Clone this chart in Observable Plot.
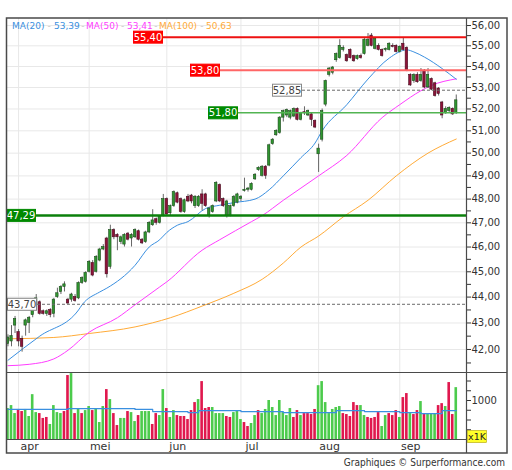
<!DOCTYPE html>
<html><head><meta charset="utf-8">
<script src="https://cdn.jsdelivr.net/npm/d3@7"></script>
<script src="https://cdn.jsdelivr.net/npm/@observablehq/plot@0.6"></script>
<style>
html,body{margin:0;padding:0;background:#fff;}
#wrap{position:relative;width:512px;height:470px;overflow:hidden;font-family:"DejaVu Sans",sans-serif;}
#wrap > svg{position:absolute;left:0;}
</style></head><body><div id="wrap"></div>
<script>
// ---- data ----
const opens=[42.2,42.3,42.9,42.65,42.4,42.9,43.0,43.3,43.7,43.8,43.45,43.35,43.5,43.35,44.0,44.2,44.4,43.9,43.9,44.0,43.95,44.55,44.6,45.0,45.35,45.0,45.45,45.9,46.35,45.2,46.7,46.5,46.2,46.1,46.55,46.35,46.4,46.65,46.3,46.2,46.6,46.9,47.15,47.0,47.3,48.0,47.4,47.7,48.25,48.0,47.45,48.1,48.15,47.7,47.7,48.2,48.2,47.3,47.45,47.9,48.6,48.0,47.3,47.3,47.7,47.85,48.0,48.35,48.4,48.4,48.85,49.25,49.0,49.4,49.45,50.4,50.8,50.9,51.6,51.7,51.6,51.65,52.0,51.5,51.85,51.7,51.75,51.45,49.95,50.6,52.2,53.6,53.7,54.3,54.4,54.8,54.55,54.8,54.5,54.35,54.5,54.6,55.0,55.5,54.85,55.0,54.8,54.8,54.8,55.0,55.0,54.7,55.1,54.9,53.6,53.3,53.6,53.3,53.8,53.0,53.4,53.2,52.95,52.3,51.8,51.9,52.0,51.8];
const highs=[42.55,42.9,43.25,42.75,42.5,43.15,43.25,43.7,44.1,43.85,43.5,43.5,43.55,43.95,44.35,44.45,44.6,43.95,44.15,44.1,44.6,44.8,45.0,45.45,45.45,45.65,45.95,46.1,46.4,46.9,46.75,46.55,46.45,46.55,46.6,46.55,46.75,46.7,46.35,46.65,47.05,47.55,47.2,47.3,48.2,48.05,47.75,48.35,48.3,48.05,48.0,48.2,48.2,48.15,48.15,48.4,48.25,47.65,47.75,48.75,48.65,48.05,47.95,47.75,48.15,48.25,48.15,48.9,48.5,48.7,49.1,49.4,49.45,49.45,50.4,50.65,51.05,51.65,51.95,52.0,51.95,52.05,52.05,51.85,52.1,51.95,51.8,51.5,50.4,52.0,53.35,53.95,54.0,54.65,55.3,55.0,54.6,54.85,54.55,54.55,54.6,55.35,55.6,55.6,55.4,55.1,54.85,54.9,55.15,55.1,55.05,55.0,55.4,54.95,53.65,53.65,53.7,53.9,53.85,53.9,53.45,53.25,53.0,52.35,52.1,52.1,52.05,52.65];
const lows=[42.1,42.1,42.6,42.1,41.9,42.5,42.6,43.2,43.6,43.3,43.3,43.25,43.2,43.2,43.95,44.1,44.2,43.7,43.8,43.8,43.9,44.5,44.55,44.95,44.8,44.95,45.4,45.85,44.75,45.1,46.3,45.85,46.1,46.0,46.25,46.0,46.35,46.25,46.1,46.15,46.55,46.85,46.9,46.95,47.25,47.3,47.3,47.65,47.8,47.4,47.4,47.85,47.8,47.6,47.65,47.5,47.65,47.2,47.4,47.85,47.85,47.65,47.2,47.25,47.65,47.8,47.9,48.3,48.3,48.35,48.8,49.2,48.95,48.85,49.4,50.35,50.75,50.85,51.4,51.6,51.5,51.6,51.45,51.45,51.7,51.65,51.2,51.1,49.15,50.5,52.1,53.5,53.6,54.2,54.35,54.7,54.2,54.35,54.2,54.3,54.35,54.55,54.95,54.95,54.8,54.75,54.45,54.7,54.75,54.9,54.65,54.65,54.75,53.75,53.05,53.2,53.2,53.25,52.95,52.95,52.85,52.55,52.6,51.55,51.75,51.8,51.7,51.75];
const closes=[42.45,42.5,43.15,42.3,42.1,43.1,43.2,43.6,43.95,43.35,43.35,43.45,43.3,43.9,44.15,44.4,44.5,43.75,44.1,43.85,44.55,44.75,44.95,45.4,44.85,45.6,45.9,46.0,44.9,46.7,46.4,46.4,46.4,46.5,46.3,46.5,46.7,46.3,46.15,46.6,47.0,47.1,47.0,47.25,48.0,47.35,47.7,48.3,47.85,47.45,47.95,47.9,47.9,48.1,48.1,47.8,47.7,47.6,47.7,48.7,47.9,47.7,47.9,47.7,48.1,48.2,48.1,48.4,48.45,48.65,49.05,49.35,49.4,49.0,50.35,50.6,51.0,51.6,51.9,51.95,51.9,52.0,51.5,51.8,51.8,51.9,51.5,51.15,50.2,51.9,53.3,53.9,53.95,54.6,55.0,54.9,54.25,54.4,54.25,54.5,54.4,55.3,55.3,55.0,55.35,54.8,54.5,54.85,55.1,54.95,54.7,54.95,54.8,53.8,53.1,53.6,53.25,53.6,53.0,53.6,52.9,52.6,52.7,51.7,52.0,52.05,51.75,52.4];
const volumes=[794,870,665,770,717,770,590,1150,690,665,540,565,385,870,690,665,717,1640,1690,665,794,665,742,845,742,794,435,845,1280,1024,665,358,540,540,717,690,460,614,717,717,717,385,665,614,1280,794,565,742,614,590,590,512,742,947,1024,1485,794,820,820,665,665,665,590,565,690,717,512,435,333,410,614,742,665,770,1000,820,614,1000,690,614,794,565,742,614,665,665,640,770,1380,1485,947,665,770,820,845,665,640,590,947,870,870,614,565,540,565,690,333,614,665,614,742,565,1075,1178,665,640,742,973,665,665,665,665,870,920,845,1460,640,1330];
const volumeUp=[1,1,1,0,0,1,1,1,1,0,0,0,1,1,1,1,0,0,1,0,1,0,1,1,0,1,1,1,0,1,0,0,1,1,0,1,1,0,1,1,1,0,0,1,1,0,1,1,0,0,0,0,0,0,1,0,0,0,1,1,1,1,0,0,1,1,1,0,0,1,1,0,1,1,1,1,1,1,1,1,1,0,0,1,0,0,0,0,1,1,1,1,1,1,1,0,0,0,0,0,1,1,0,0,0,0,1,1,0,0,0,1,0,0,1,0,0,1,0,1,1,1,0,0,1,0,0,1];
const monthStart=[3,23,45,66,88,111];
const monthLabels=["apr","mei","jun","jul","aug","sep"];
const ma20Idx=[0,9,20,21,26,28,36,40,43,45,48,51,56,60,64,70,74,78,83,87,89,96,102,108,113,115,118,123,127];
const ma20Val=[41.6,42.5,43.5,43.7,44.2,44.35,45.26,46.0,46.3,46.6,46.9,47.05,47.6,47.74,47.85,48.0,48.4,49.0,49.8,50.45,51.0,52.2,53.4,54.4,54.8,54.7,54.45,53.9,53.39];
const ma50Idx=[0,6,13,17,23,31,36,43,45,55,60,69,72,78,88,96,106,111,117,120,127];
const ma50Val=[41.4,41.45,41.65,41.97,42.65,43.2,43.7,44.4,44.6,45.87,46.3,47.05,47.3,47.95,49.0,49.9,51.6,52.2,52.85,53.1,53.41];
const ma100Idx=[0,13,23,36,46,55,64,72,78,83,88,95,102,110,119,127];
const ma100Val=[42.4,42.45,42.6,42.85,43.2,43.65,44.15,44.7,45.35,46.0,46.45,47.25,47.95,49.0,50.0,50.63];
const volMaIdx=[0,17,36,41,51,54,66,78,93,101,111,117,123,127];
const volMaVal=[770,794,770,717,690,742,717,690,742,717,690,665,742,742];
const levelValues=[55.40,53.80,51.80,52.85,47.29,43.70];
const priceTicks=[42,43,44,45,46,47,48,49,50,51,52,53,54,55,56];
const volumeTicks=[250,500,750,1000,1250,1500];
const volumeTickLabels=["","","","1000","",""];
const maNames=["MA(20)","MA(50)","MA(100)"];
const maLast=[53.39,53.41,50.63];
const footerText="Graphiques \u00a9 Surperformance.com";
const unitText="x1K";

// ---- layout / style ----
const W=512, PRICE_H=372, VOL_H=98, ML=6, MR=46;
const xDomain=[-0.42,129.9];
const fmt=v=>d3.format(".2f")(v).replace(".",",");
const maColors=["#3a8fe0","#ff3dff","#ffab38"];
const levelLayout=[
  {left:133,box:"#ff0000",border:"#ff0000",text:"#fff",line:"#ee1111",lw:2,dash:null},
  {left:190,box:"#ff0000",border:"#ff0000",text:"#fff",line:"#ff6666",lw:2,dash:null},
  {left:208,box:"#008a00",border:"#008a00",text:"#fff",line:"#52b452",lw:1.5,dash:null},
  {left:272,box:"#fff",border:"#888",text:"#444",line:"#6a6a6a",lw:1,dash:"3,2"},
  {left:6,box:"#008a00",border:"#008a00",text:"#fff",line:"#0b800b",lw:2.5,dash:null},
  {left:7,box:"#fff",border:"#888",text:"#444",line:"#6a6a6a",lw:1,dash:"3,2"}
];
const font="'DejaVu Sans', sans-serif";

const candles=closes.map((c,i)=>({i,o:opens[i],h:highs[i],l:lows[i],c}));
const vols=volumes.map((v,i)=>({i,v,up:volumeUp[i]}));
const pts=(idx,val)=>idx.map((i,k)=>({i,v:val[k]}));
const halfTicks=priceTicks.flatMap(t=>[t-0.5,t]);

const levelMark=(index,scales,values,dims)=>{
  const g=d3.create("svg:g");
  const xr=dims.width-dims.marginRight;
  levelValues.forEach((v,k)=>{
    const s=levelLayout[k], y=scales.y(v);
    g.append("line").attr("x1",s.left).attr("x2",xr).attr("y1",y).attr("y2",y)
      .attr("stroke",s.line).attr("stroke-width",s.lw).attr("stroke-dasharray",s.dash);
  });
  levelValues.forEach((v,k)=>{
    const s=levelLayout[k], y=scales.y(v);
    g.append("rect").attr("x",s.left+0.5).attr("y",y-6).attr("width",29).attr("height",12)
      .attr("fill",s.box).attr("stroke",s.border).attr("stroke-width",1);
    g.append("text").attr("x",s.left+15).attr("y",y).attr("dy","0.36em")
      .attr("text-anchor","middle").attr("fill",s.text).attr("font-size",10)
      .attr("font-family",font).text(fmt(v));
  });
  return g.node();
};

const price=Plot.plot({
  width:W,height:PRICE_H,marginTop:18,marginBottom:0,marginLeft:ML,marginRight:MR,
  style:{fontFamily:font,fontSize:"10px",color:"#333",background:"transparent",overflow:"visible"},
  x:{domain:xDomain,axis:null},
  y:{type:"log",domain:[41.15,56.35],axis:"right",ticks:halfTicks,
     tickFormat:d=>Number.isInteger(d)?fmt(d):"",tickSize:4,tickPadding:1,label:null},
  marks:[
    Plot.ruleY(priceTicks,{y:d=>d,stroke:"#e8e8e8"}),
    Plot.ruleX(monthStart,{x:d=>d,stroke:"#e8e8e8"}),
    Plot.line(pts(ma100Idx,ma100Val),{x:"i",y:"v",stroke:maColors[2],strokeWidth:1,curve:"monotone-x"}),
    Plot.line(pts(ma50Idx,ma50Val),{x:"i",y:"v",stroke:maColors[1],strokeWidth:1,curve:"monotone-x"}),
    Plot.line(pts(ma20Idx,ma20Val),{x:"i",y:"v",stroke:maColors[0],strokeWidth:1,curve:"monotone-x"}),
    Plot.ruleX(candles,{x:"i",y1:"l",y2:"h",stroke:"#666",strokeWidth:1}),
    Plot.rect(candles,{x1:d=>d.i-0.34,x2:d=>d.i+0.34,y1:"o",y2:"c",
      fill:d=>d.c>=d.o?"#2f962f":"#8e1238",stroke:d=>d.c>=d.o?"#1d4d1d":"#4a0a1e",strokeWidth:0.6}),
    levelMark
  ]
});

const volume=Plot.plot({
  width:W,height:VOL_H,marginTop:0,marginBottom:31,marginLeft:ML,marginRight:MR,
  style:{fontFamily:font,fontSize:"10px",color:"#333",background:"transparent",overflow:"visible"},
  x:{domain:xDomain,axis:null},
  y:{domain:[0,1718],axis:"right",ticks:volumeTicks,
     tickFormat:d=>volumeTickLabels[volumeTicks.indexOf(d)],tickSize:4,tickPadding:1,label:null},
  marks:[
    Plot.ruleX(monthStart,{x:d=>d,stroke:"#e8e8e8"}),
    Plot.rect(vols,{x1:d=>d.i-0.37,x2:d=>d.i+0.37,y1:d=>0,y2:"v",fill:d=>d.up?"#4ccb4c":"#e0184e"}),
    Plot.line(pts(volMaIdx,volMaVal),{x:"i",y:"v",stroke:"#3a8fe0",strokeWidth:1.2,curve:"step-after"}),
    Plot.text(monthStart,{x:d=>d,text:(d,i)=>monthLabels[i],frameAnchor:"bottom",lineAnchor:"top",
      dy:3,dx:11,fontSize:11,fill:"#333"})
  ]
});

const wrap=document.getElementById("wrap");
price.style.top="0px";
volume.style.top=PRICE_H+"px";
wrap.appendChild(price);
wrap.appendChild(volume);

// frame, legend, footer overlay
const ov=d3.select(wrap).append("svg").attr("width",W).attr("height",470)
  .style("top","0px").style("pointer-events","none").attr("font-family",font);
const fr=ov.append("g").attr("fill","none").attr("stroke","#4a4a4a");
fr.append("rect").attr("x",6.5).attr("y",18).attr("width",500.5).attr("height",435).attr("stroke-width",1.5);
fr.append("line").attr("x1",466.5).attr("x2",466.5).attr("y1",18).attr("y2",453).attr("stroke-width",1.2);
fr.append("line").attr("x1",6).attr("x2",507).attr("y1",372.5).attr("y2",372.5).attr("stroke-width",1.2);
fr.append("line").attr("x1",6).attr("x2",466).attr("y1",439.5).attr("y2",439.5).attr("stroke-width",1.2);

const legX=[[12,54],[86,127],[159,206]];
const sepX=[49,82.8,122.5,155.8,201.8];
const leg=ov.append("g").attr("font-size",9);
maNames.forEach((n,k)=>{
  leg.append("text").attr("x",legX[k][0]).attr("y",28.5).attr("fill",maColors[k]).text(n);
  leg.append("text").attr("x",legX[k][1]).attr("y",28.5).attr("fill",maColors[k]).text(fmt(maLast[k]));
});
sepX.forEach(x=>leg.append("text").attr("x",x).attr("y",28.5).attr("text-anchor","middle")
  .attr("fill","#c8c8c8").text("-"));

ov.append("rect").attr("x",467.5).attr("y",430.5).attr("width",19).attr("height",12)
  .attr("fill","#ffff2a").attr("stroke","#b0a000").attr("stroke-width",0.6);
ov.append("text").attr("x",477).attr("y",440).attr("text-anchor","middle").attr("font-size",9.5)
  .attr("fill","#222").text(unitText);
ov.append("text").attr("x",505).attr("y",466).attr("text-anchor","end")
  .attr("font-family","'DejaVu Sans Condensed','DejaVu Sans',sans-serif").attr("font-size",10)
  .attr("fill","#333").text(footerText);
</script></body></html>
